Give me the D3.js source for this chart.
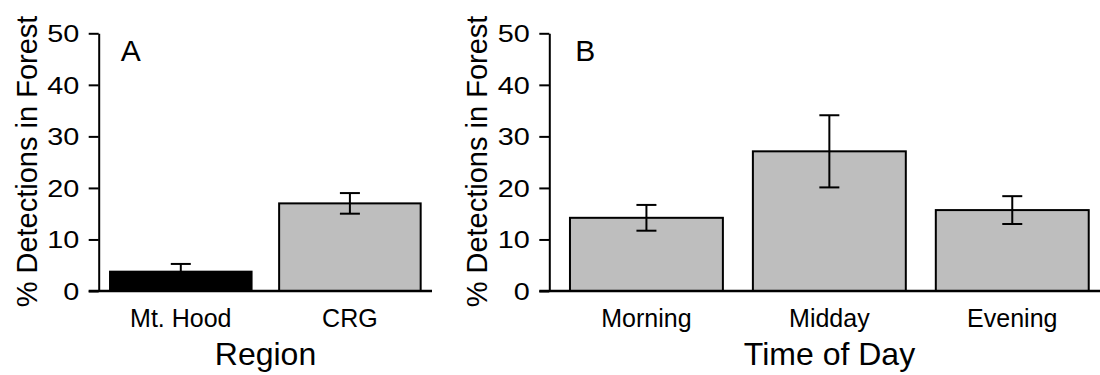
<!DOCTYPE html>
<html>
<head>
<meta charset="utf-8">
<script src="https://cdn.jsdelivr.net/npm/d3@7"></script>
<style>
  body { margin: 0; background: #fff; }
  svg { display: block; }
  text { font-family: "Liberation Sans", Arial, Helvetica, sans-serif; fill: #000; }
</style>
</head>
<body>
<svg id="chart" width="1100" height="375"></svg>
<script>
// panel A: region
const regionCats = ["Mt. Hood", "CRG"];
const regionVals = [3.75, 17.0];
const regionErr = [1.5, 2.0];
const regionFill = ["#000000", "#bebebe"];

// panel B: time of day
const timeCats = ["Morning", "Midday", "Evening"];
const timeVals = [14.2, 27.1, 15.7];
const timeErr = [2.5, 7.0, 2.7];
const timeFill = ["#bebebe", "#bebebe", "#bebebe"];

const yTicks = [0, 10, 20, 30, 40, 50];
const yTitle = "% Detections in Forest";

const svg = d3.select("#chart");

function drawPanel(p) {
  const g = svg.append("g");

  const y = d3.scaleLinear().domain([0, 50]).range([291, 33.3]);
  const x = d3.scaleBand()
    .domain(p.cats)
    .range([p.x0, p.x1])
    .paddingInner(p.padIn)
    .paddingOuter(p.padOut);

  // bars
  g.selectAll(".bar")
    .data(p.vals)
    .enter()
    .append("rect")
    .attr("x", (d, i) => x(p.cats[i]))
    .attr("y", d => y(d))
    .attr("width", x.bandwidth())
    .attr("height", d => y(0) - y(d))
    .attr("fill", (d, i) => p.fill[i])
    .attr("stroke", "#000")
    .attr("stroke-width", 2);

  // error bars
  const eb = g.selectAll(".err")
    .data(p.vals)
    .enter()
    .append("g")
    .attr("transform", (d, i) => "translate(" + (x(p.cats[i]) + x.bandwidth() / 2) + ",0)");
  eb.append("line")
    .attr("y1", (d, i) => y(d - p.err[i]))
    .attr("y2", (d, i) => y(d + p.err[i]))
    .attr("stroke", "#000").attr("stroke-width", 2);
  eb.append("line")
    .attr("x1", -10).attr("x2", 10)
    .attr("y1", (d, i) => y(d + p.err[i]))
    .attr("y2", (d, i) => y(d + p.err[i]))
    .attr("stroke", "#000").attr("stroke-width", 2);
  eb.append("line")
    .attr("x1", -10).attr("x2", 10)
    .attr("y1", (d, i) => y(d - p.err[i]))
    .attr("y2", (d, i) => y(d - p.err[i]))
    .attr("stroke", "#000").attr("stroke-width", 2);

  // y axis
  const ya = g.append("g")
    .attr("transform", "translate(" + p.x0 + ",0)")
    .call(d3.axisLeft(y).tickValues(yTicks).tickSize(10).tickSizeOuter(0));
  ya.select(".domain").attr("stroke", "#000").attr("stroke-width", 2);
  ya.selectAll(".tick line").attr("stroke", "#000").attr("stroke-width", 2);
  ya.selectAll(".tick text")
    .attr("x", -19.5 / 1.2)
    .attr("dy", "0.35em")
    .attr("transform", "scale(1.2,1)")
    .style("font-size", "24px")
    .attr("font-family", null);

  // x axis
  const xa = g.append("g")
    .attr("transform", "translate(0,291)")
    .call(d3.axisBottom(x).tickSize(0));
  xa.select(".domain").remove();
  xa.selectAll(".tick text")
    .attr("y", 36)
    .attr("dy", 0)
    .style("font-size", "25px")
    .attr("font-family", null);

  g.append("line")
    .attr("x1", p.x0 - 10).attr("x2", p.lineEnd)
    .attr("y1", 291).attr("y2", 291)
    .attr("stroke", "#000").attr("stroke-width", 2.5);

  // titles
  g.append("text")
    .attr("transform", "translate(" + (p.x0 - 62) + ",161.5) rotate(-90)")
    .attr("text-anchor", "middle")
    .style("font-size", "29px")
    .text(yTitle);

  g.append("text")
    .attr("x", p.titleX).attr("y", 365)
    .attr("text-anchor", "middle")
    .style("font-size", "32px")
    .text(p.xTitle);

  g.append("text")
    .attr("x", p.x0 + p.letterDx).attr("y", 61)
    .style("font-size", "30px")
    .text(p.letter);
}

drawPanel({
  cats: regionCats, vals: regionVals, err: regionErr, fill: regionFill,
  x0: 98.7, x1: 432, padIn: 0.163, padOut: 0.067, lineEnd: 432,
  xTitle: "Region", titleX: 265.5, letter: "A", letterDx: 22
});

drawPanel({
  cats: timeCats, vals: timeVals, err: timeErr, fill: timeFill,
  x0: 549.3, x1: 1109.4, padIn: 0.164, padOut: 0.113, lineEnd: 1100,
  xTitle: "Time of Day", titleX: 829.5, letter: "B", letterDx: 26
});
</script>
</body>
</html>
